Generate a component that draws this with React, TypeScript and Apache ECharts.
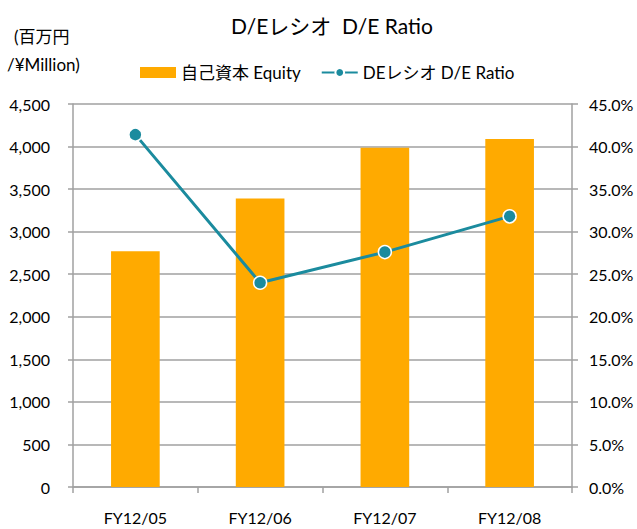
import React, { useEffect, useRef } from "react";
import * as echarts from "echarts";

const categories = ["FY12/05", "FY12/06", "FY12/07", "FY12/08"];
const equity = [2770, 3390, 3985, 4090];
const deRatio = [41.4, 24.0, 27.6, 31.8];
const leftTicks = { min: 0, max: 4500, interval: 500 };
const rightTicks = { min: 0, max: 45, interval: 5 };

const FONT = "Lato, 'Noto Sans CJK JP', sans-serif";
const BAR = "#FFAA00";
const LINE = "#1B8B9E";
const GRID = "#A0A0A0";

export default function App() {
  const ref = useRef<HTMLDivElement>(null);
  useEffect(() => {
    if (!ref.current) return;
    const chart = echarts.init(ref.current, undefined, { renderer: "svg" });
    chart.setOption({
      animation: false,
      textStyle: { fontFamily: FONT, color: "#000" },
      title: {
        text: "D/Eレシオ  D/E Ratio",
        left: 226,
        top: 10,
        textStyle: { fontFamily: FONT, fontSize: 21, fontWeight: "normal", color: "#000" },
      },
      legend: {
        left: 135,
        top: 59,
        itemWidth: 36,
        itemHeight: 11,
        itemGap: 20,
        textStyle: { fontFamily: FONT, fontSize: 17, color: "#000" },
        data: [
          { name: "自己資本 Equity", icon: "rect" },
          { name: "DEレシオ D/E Ratio" },
        ],
      },
      graphic: [
        {
          type: "text",
          left: 14,
          top: 28,
          style: { text: "(百万円", fontFamily: FONT, fontSize: 17, fill: "#000" },
        },
        {
          type: "text",
          left: 7,
          top: 56,
          style: { text: "/¥Million)", fontFamily: FONT, fontSize: 17, fill: "#000" },
        },
      ],
      grid: { left: 73, right: 65, top: 104, bottom: 42, containLabel: false },
      xAxis: {
        type: "category",
        data: categories,
        boundaryGap: true,
        axisLine: { lineStyle: { color: GRID, width: 1.5 } },
        axisTick: { show: true, alignWithLabel: false, length: 6, lineStyle: { color: GRID, width: 1.5 } },
        axisLabel: { margin: 22, fontSize: 16, color: "#000", fontFamily: FONT },
      },
      yAxis: [
        {
          type: "value",
          ...leftTicks,
          axisLine: { show: true, lineStyle: { color: GRID, width: 1.5 } },
          axisTick: { show: true, length: 5, lineStyle: { color: GRID, width: 1.5 } },
          axisLabel: {
            margin: 23,
            fontSize: 16,
            color: "#000",
            fontFamily: FONT,
            formatter: (v: number) => v.toLocaleString("en-US"),
          },
          splitLine: { show: true, lineStyle: { color: GRID, width: 1.5 } },
        },
        {
          type: "value",
          ...rightTicks,
          position: "right",
          axisLine: { show: true, lineStyle: { color: GRID, width: 1.5 } },
          axisTick: { show: true, length: 6, lineStyle: { color: GRID, width: 1.5 } },
          axisLabel: {
            margin: 17,
            fontSize: 16,
            color: "#000",
            fontFamily: FONT,
            formatter: (v: number) => `${v.toFixed(1)}%`,
          },
          splitLine: { show: false },
        },
      ],
      series: [
        {
          name: "自己資本 Equity",
          type: "bar",
          data: equity,
          barWidth: "39%",
          itemStyle: { color: BAR },
          yAxisIndex: 0,
        },
        {
          name: "DEレシオ D/E Ratio",
          type: "line",
          data: deRatio,
          yAxisIndex: 1,
          symbol: "circle",
          symbolSize: 13,
          lineStyle: { color: LINE, width: 3 },
          itemStyle: { color: LINE, borderColor: "#fff", borderWidth: 1.5 },
        },
      ],
    });
    return () => chart.dispose();
  }, []);
  return <div ref={ref} style={{ width: 637, height: 529, position: "absolute", left: 0, top: 0 }} />;
}
